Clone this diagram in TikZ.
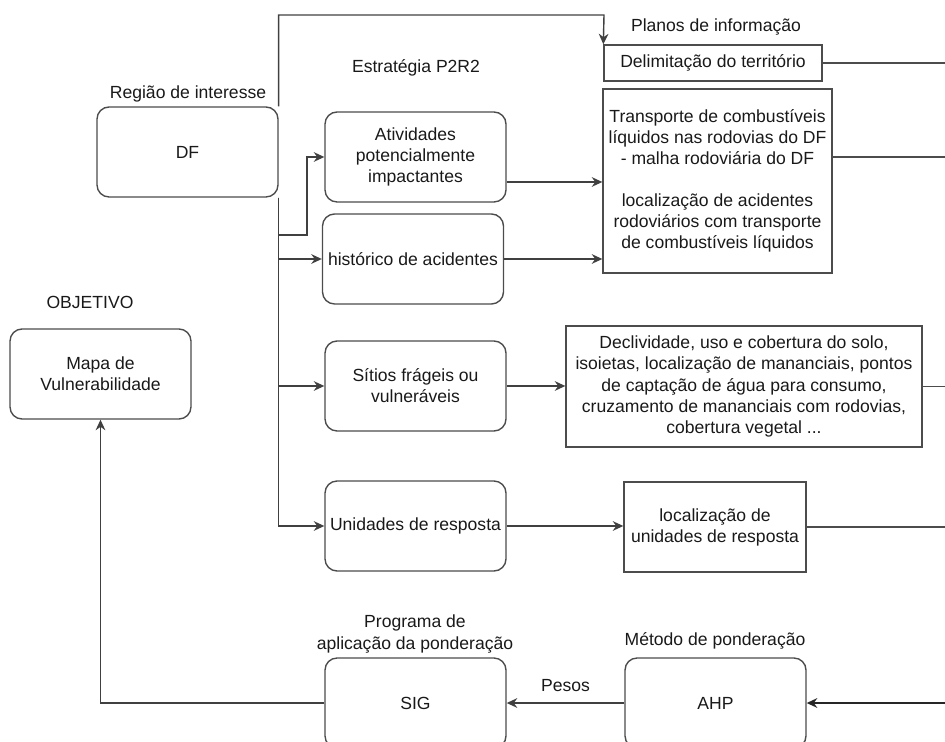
\documentclass[tikz,border=0pt]{standalone}
\usepackage{fontspec}
\setmainfont{Liberation Sans}
\usetikzlibrary{arrows.meta,positioning,calc}

\begin{document}
\begin{tikzpicture}[x=0.02cm, y=-0.02cm,
    every node/.style={font=\fontsize{10}{12}\selectfont, text=black!90},
    box/.style={draw=black!70, line width=0.8pt, rounded corners=0.24cm, align=center, minimum width=3.62cm, minimum height=1.8cm, inner sep=1pt},
    plano/.style={draw=black!70, line width=0.8pt, align=center, inner sep=1pt},
    arr/.style={draw=black!75, line width=0.8pt, -{Stealth[length=6pt,width=5.5pt]}},
    linha/.style={draw=black!70, line width=0.8pt}]

\path[use as bounding box] (0,0) rectangle (945,742);
\begin{scope}
\clip (0,0) rectangle (945,742);

% Region of interest
\node (dflab) at (188,94) {Região de interesse};
\node[box] (df) at (187.5,152) {DF};

% Strategy P2R2
\node (estlab) at (416,68) {Estratégia P2R2};
\node[box] (ativ) at (415.5,157) {Atividades\\potencialmente\\impactantes};
\node[box] (hist) at (413,259) {histórico de acidentes};
\node[box] (sitios) at (415.5,386) {Sítios frágeis ou\\vulneráveis};
\node[box] (unid) at (415.5,526) {Unidades de resposta};

% Information layers
\node (planlab) at (716,27) {Planos de informação};
\node[plano, minimum width=4.36cm, minimum height=0.72cm] (delim) at (713,63) {Delimitação do território};
\node[plano, minimum width=4.58cm, minimum height=3.68cm] (transp) at (717.5,181) {
    Transporte de combustíveis\\
    líquidos nas rodovias do DF\\
    - malha rodoviária do DF\\[12pt]
    localização de acidentes\\
    rodoviários com transporte\\
    de combustíveis líquidos
};
\node[plano, minimum width=7.12cm, minimum height=2.42cm] (decl) at (744,386.5) {
    Declividade, uso e cobertura do solo,\\
    isoietas, localização de mananciais, pontos\\
    de captação de água para consumo,\\
    cruzamento de mananciais com rodovias,\\
    cobertura vegetal ...
};
\node[plano, minimum width=3.64cm, minimum height=1.8cm] (locunid) at (715,527) {localização de\\unidades de resposta};

% Objective
\node (objlab) at (90,302) {OBJETIVO};
\node[box] (mapa) at (100.5,374) {Mapa de\\Vulnerabilidade};

% Weighting
\node (metlab) at (715,641) {Método de ponderação};
\node[box] (ahp) at (715.5,703) {AHP};
\node[align=center] (proglab) at (415,634) {Programa de\\aplicação da ponderação};
\node[box] (sig) at (415.5,703) {SIG};

% bend points and right border
\coordinate (topo) at (604,15);
\coordinate (ativbend) at (307,235);
\coordinate (borda) at (960,0);

% Arrows: DF to layers and strategy
\draw[arr] (df.north east) |- (topo) -- (delim.north west);
\draw[arr] (df.south east) |- (unid.west);
\draw[arr] (df.south east) |- (sitios.west);
\draw[arr] (df.south east) |- (hist.west);
\draw[arr] (df.south east) |- (ativbend) |- (ativ.west);

% Arrows: strategy to layers
\draw[arr] ([yshift=-0.5cm]ativ.east) coordinate (a1) -- (a1 -| transp.west);
\draw[arr] (hist.east) -- (hist.east -| transp.west);
\draw[arr] (sitios.east) -- (sitios.east -| decl.west);
\draw[arr] (unid.east) -- (unid.east -| locunid.west);

% Layers leaving to the right
\draw[linha] (delim.east) -- (delim.east -| borda);
\draw[linha] ([yshift=0.48cm]transp.east) coordinate (t1) -- (t1 -| borda);
\draw[linha] (decl.east) -- (decl.east -| borda);
\draw[linha] (locunid.east) -- (locunid.east -| borda);

% Weighting chain
\draw[arr, line width=1.6pt, draw=black!85] (ahp.east -| borda) -- (ahp.east);
\draw[arr] (ahp.west) -- node[above=3pt] (pesos) {Pesos} (sig.east);
\draw[arr] (sig.west) -| (mapa.south);

\end{scope}
\end{tikzpicture}
\end{document}
